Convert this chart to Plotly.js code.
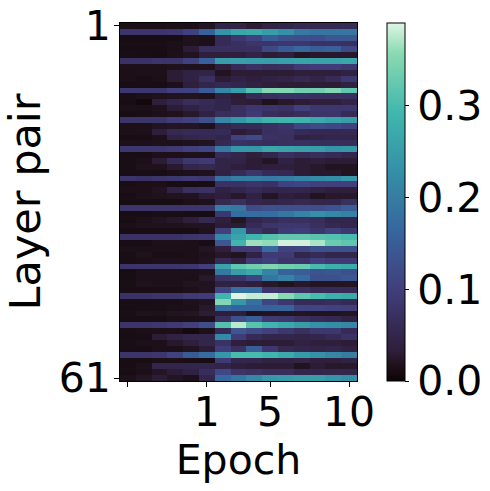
<!DOCTYPE html>
<html>
<head>
<meta charset="utf-8">
<script src="https://cdn.plot.ly/plotly-3.0.1.min.js"></script>
<style>
  html, body { margin: 0; padding: 0; background: #fff; }
</style>
</head>
<body>
<div id="myPlot" style="width:490px;height:491px;"></div>
<script>
// Epoch columns (only 4 of them carry a tick)
const epochs = [0, 1, 2, 3, 4, 5, 6, 7, 8, 9, 10, 11, 12, 13, 14];
const epochTicks = [0, 5, 9, 14];
const epochTickLabels = ["", "1", "5", "10"];
const layerTicks = [1, 61];
const layerTickLabels = ["1", "61"];

// seaborn mako
const mako = [
  [0, "#0B0405"], [0.05, "#22131F"], [0.0833, "#2E1E3B"], [0.25, "#413D7B"], [0.4167, "#37659E"],
  [0.5833, "#348FA7"], [0.75, "#40B7AD"], [0.9167, "#8BDAB2"], [1, "#DEF5E5"]
];

// One row per layer pair
const values = [
  [.015,.014,.014,.015,.016,.022,.045,.045,.03,.045,.05,.055,.055,.055,.06],
  [.08,.08,.08,.085,.105,.155,.235,.265,.27,.25,.23,.195,.185,.185,.185],
  [.012,.012,.012,.012,.018,.016,.06,.085,.105,.15,.13,.125,.125,.14,.14],
  [.013,.013,.013,.014,.018,.016,.06,.07,.08,.08,.085,.085,.075,.075,.07],
  [.012,.012,.012,.014,.03,.065,.07,.07,.07,.115,.145,.165,.15,.155,.115],
  [.013,.012,.011,.016,.02,.035,.035,.035,.045,.03,.035,.022,.025,.025,.025],
  [.075,.075,.08,.08,.105,.155,.25,.255,.25,.25,.255,.26,.26,.26,.265],
  [.015,.015,.015,.018,.018,.018,.035,.06,.075,.065,.07,.09,.095,.095,.085],
  [.014,.015,.015,.03,.04,.045,.02,.03,.03,.03,.03,.035,.035,.035,.04],
  [.014,.013,.014,.03,.04,.07,.03,.04,.035,.04,.045,.055,.045,.06,.085],
  [.012,.012,.012,.016,.035,.05,.055,.05,.04,.035,.03,.03,.03,.03,.04],
  [.085,.085,.085,.1,.105,.145,.215,.25,.31,.35,.35,.335,.335,.35,.32],
  [.013,.015,.018,.02,.02,.018,.04,.03,.06,.07,.075,.075,.07,.07,.07],
  [.012,.006,.035,.05,.065,.06,.05,.032,.03,.018,.025,.03,.035,.035,.045],
  [.015,.014,.018,.03,.04,.055,.05,.07,.085,.08,.075,.1,.085,.085,.085],
  [.012,.013,.016,.018,.025,.04,.065,.07,.09,.065,.06,.065,.08,.08,.06],
  [.08,.08,.08,.095,.105,.13,.215,.24,.265,.285,.29,.285,.27,.26,.25],
  [.014,.014,.02,.022,.022,.018,.05,.06,.06,.07,.08,.11,.12,.115,.105],
  [.014,.015,.035,.055,.06,.06,.06,.03,.04,.07,.075,.06,.055,.055,.055],
  [.012,.013,.015,.04,.05,.055,.05,.105,.12,.075,.07,.04,.045,.05,.05],
  [.015,.016,.017,.015,.018,.02,.055,.075,.07,.065,.07,.07,.065,.065,.065],
  [.085,.085,.085,.09,.1,.11,.195,.24,.24,.265,.26,.255,.25,.235,.24],
  [.012,.012,.016,.014,.016,.016,.06,.05,.035,.05,.07,.06,.065,.06,.05],
  [.013,.016,.03,.06,.085,.09,.045,.045,.03,.022,.04,.03,.035,.03,.03],
  [.013,.018,.018,.028,.05,.055,.045,.035,.03,.035,.035,.03,.025,.02,.02],
  [.012,.013,.012,.014,.016,.018,.04,.06,.08,.06,.055,.03,.025,.025,.02],
  [.08,.075,.08,.085,.09,.085,.18,.2,.2,.195,.2,.21,.22,.225,.24],
  [.013,.014,.014,.012,.011,.012,.075,.075,.08,.075,.105,.11,.1,.1,.1],
  [.014,.014,.02,.04,.07,.075,.04,.05,.06,.05,.05,.05,.04,.035,.035],
  [.012,.015,.018,.02,.02,.03,.035,.025,.04,.022,.035,.03,.02,.025,.025],
  [.012,.012,.012,.012,.014,.017,.055,.07,.05,.045,.05,.055,.05,.05,.07],
  [.08,.08,.08,.08,.08,.08,.2,.19,.12,.13,.13,.13,.125,.135,.15],
  [.012,.012,.013,.013,.012,.011,.085,.175,.175,.175,.19,.21,.23,.22,.205],
  [.012,.015,.02,.024,.035,.055,.035,.022,.05,.06,.07,.07,.065,.05,.05],
  [.014,.018,.018,.018,.02,.02,.03,.03,.06,.08,.085,.085,.07,.055,.05],
  [.012,.012,.012,.012,.012,.018,.1,.24,.08,.06,.09,.095,.08,.1,.085],
  [.075,.075,.075,.075,.08,.085,.22,.26,.29,.31,.32,.32,.315,.31,.3],
  [.012,.012,.015,.016,.014,.012,.14,.29,.365,.36,.385,.385,.37,.33,.32],
  [.014,.014,.014,.014,.014,.022,.035,.09,.09,.17,.105,.11,.13,.13,.13],
  [.013,.018,.013,.013,.014,.018,.024,.02,.04,.09,.09,.05,.06,.05,.05],
  [.013,.014,.016,.016,.016,.02,.06,.04,.09,.1,.08,.08,.1,.09,.09],
  [.08,.08,.08,.08,.085,.1,.26,.32,.335,.35,.335,.33,.3,.28,.27],
  [.012,.016,.016,.016,.016,.018,.19,.25,.27,.21,.16,.15,.135,.14,.13],
  [.012,.016,.016,.016,.014,.025,.075,.08,.11,.185,.21,.175,.13,.13,.14],
  [.013,.018,.016,.016,.02,.02,.04,.04,.035,.025,.02,.025,.022,.022,.022],
  [.013,.013,.013,.013,.016,.02,.11,.18,.18,.08,.075,.07,.06,.06,.06],
  [.075,.075,.08,.08,.09,.095,.29,.39,.38,.38,.355,.32,.3,.28,.27],
  [.013,.013,.013,.013,.017,.02,.35,.24,.18,.11,.085,.06,.06,.065,.06],
  [.012,.013,.013,.014,.016,.025,.17,.16,.16,.16,.16,.11,.11,.105,.1],
  [.013,.018,.016,.02,.022,.03,.032,.035,.018,.02,.022,.022,.02,.02,.022],
  [.012,.012,.012,.014,.014,.016,.07,.13,.15,.09,.085,.07,.06,.055,.04],
  [.08,.08,.085,.09,.1,.125,.31,.375,.315,.29,.27,.25,.23,.225,.215],
  [.013,.014,.014,.014,.008,.015,.06,.14,.12,.1,.085,.07,.085,.085,.06],
  [.012,.013,.03,.04,.05,.05,.22,.095,.06,.05,.05,.045,.05,.06,.075],
  [.013,.016,.015,.025,.035,.05,.075,.035,.03,.03,.03,.04,.035,.035,.03],
  [.012,.012,.016,.014,.02,.03,.095,.07,.15,.085,.055,.05,.045,.05,.04],
  [.08,.08,.085,.105,.145,.175,.24,.3,.3,.29,.27,.245,.23,.215,.2],
  [.012,.012,.014,.014,.013,.012,.09,.05,.05,.04,.04,.045,.035,.035,.04],
  [.012,.017,.05,.05,.05,.05,.045,.035,.03,.03,.03,.02,.03,.025,.025],
  [.012,.016,.022,.03,.04,.065,.115,.08,.075,.065,.065,.05,.05,.05,.05],
  [.015,.022,.03,.022,.016,.05,.165,.19,.215,.24,.245,.25,.25,.235,.225]
];

const layerPairs = values.map((row, i) => i + 1);

const tickFont = { family: "DejaVu Sans", size: 41, color: "#000" };

var data = [{
  type: "heatmap",
  x: epochs,
  y: layerPairs,
  z: values,
  zmin: 0,
  zmax: 0.39,
  colorscale: mako,
  colorbar: {
    x: 1.127, xanchor: "left", xpad: 0,
    y: 0.5, yanchor: "middle", ypad: 0,
    len: 1, lenmode: "fraction",
    thickness: 18, thicknessmode: "pixels",
    outlinewidth: 1, outlinecolor: "#000",
    ticks: "outside", ticklen: 4, tickwidth: 1, tickcolor: "#000",
    tickvals: [0, 0.1, 0.2, 0.3],
    ticktext: ["0.0", "0.1", "0.2", "0.3"],
    tickfont: tickFont
  }
}];

var layout = {
  width: 490,
  height: 491,
  margin: { l: 120, r: 133, t: 23, b: 110, autoexpand: false },
  paper_bgcolor: "#fff",
  plot_bgcolor: "#fff",
  font: { family: "DejaVu Sans", color: "#000" },
  xaxis: {
    range: [-0.5, 14.5],
    tickmode: "array",
    tickvals: epochTicks,
    ticktext: epochTickLabels,
    ticks: "outside", ticklen: 5, tickwidth: 1, tickcolor: "#000",
    tickangle: 0,
    tickfont: tickFont,
    ticklabelstandoff: -10,
    showline: true, linecolor: "#000", linewidth: 1, mirror: true,
    showgrid: false, zeroline: false,
    title: { text: "Epoch", font: { family: "DejaVu Sans", size: 41, color: "#000" }, standoff: 1 }
  },
  yaxis: {
    range: [61.5, 0.5],
    tickmode: "array",
    tickvals: layerTicks,
    ticktext: layerTickLabels,
    ticks: "outside", ticklen: 5, tickwidth: 1, tickcolor: "#000",
    tickfont: tickFont,
    ticklabelstandoff: -5,
    showline: true, linecolor: "#000", linewidth: 1, mirror: true,
    showgrid: false, zeroline: false,
    title: { text: "Layer pair", font: { family: "DejaVu Sans", size: 43, color: "#000" }, standoff: 6 }
  }
};

Plotly.newPlot("myPlot", data, layout, { displayModeBar: false, staticPlot: true });
</script>
</body>
</html>
